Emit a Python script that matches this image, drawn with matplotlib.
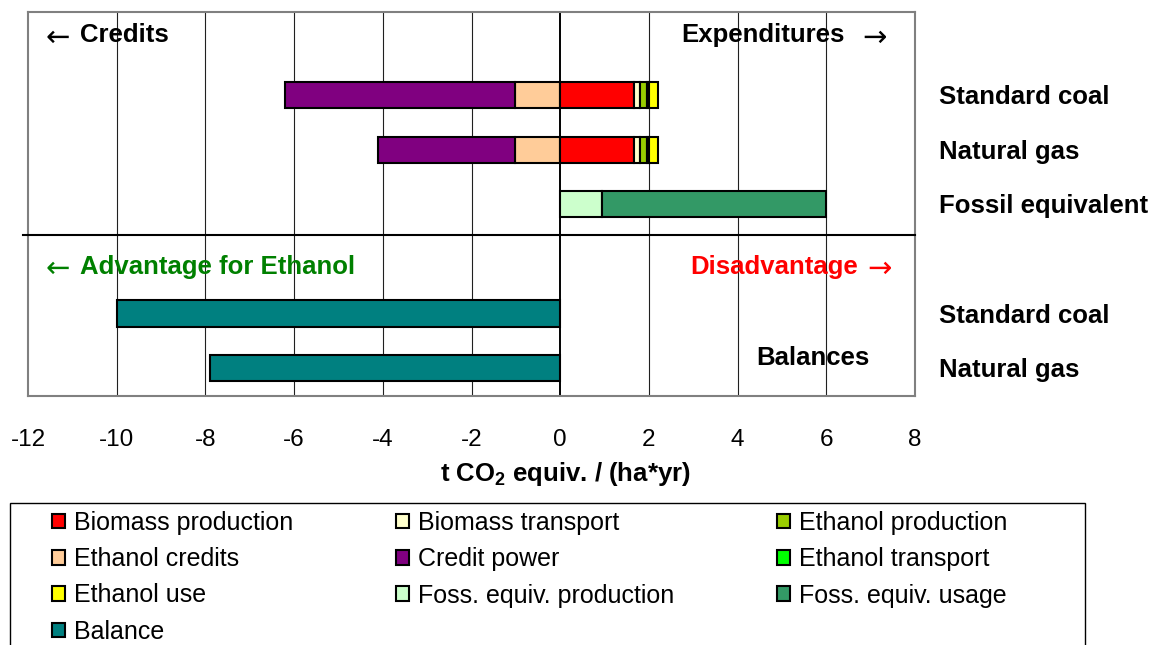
import matplotlib
matplotlib.use("Agg")
import matplotlib.pyplot as plt
from matplotlib.patches import Patch, Rectangle
import numpy as np

# ---------------- data ----------------
rows = ["Standard coal", "Natural gas", "Fossil equivalent", "", "Standard coal", "Natural gas"]
ethanol_rows = [0, 1]
fossil_row = 2
balance_rows = [4, 5]

# Ethanol chains (Standard coal, Natural gas)
ethanol_credits = [-1.02, -1.02]
credit_power = [-5.19, -3.08]
biomass_production = [1.66, 1.66]
biomass_transport = [0.14, 0.14]
ethanol_production = [0.16, 0.16]
ethanol_transport = [0.05, 0.05]
ethanol_use = [0.20, 0.20]

# Fossil equivalent
foss_equiv_production = [0.95]
foss_equiv_usage = [5.05]

# Balances (Standard coal, Natural gas)
balance = [-10.0, -7.89]

xticks = [-12, -10, -8, -6, -4, -2, 0, 2, 4, 6, 8]

colors = {
    "Biomass production": "#FF0000",
    "Biomass transport": "#FFFFCC",
    "Ethanol production": "#99CC00",
    "Ethanol credits": "#FFCC99",
    "Credit power": "#800080",
    "Ethanol transport": "#00FF00",
    "Ethanol use": "#FFFF00",
    "Foss. equiv. production": "#CCFFCC",
    "Foss. equiv. usage": "#339966",
    "Balance": "#008080",
}

plt.rcParams['font.family'] = ['Liberation Sans', 'DejaVu Sans']
plt.rcParams['mathtext.fontset'] = 'custom'
plt.rcParams['mathtext.bf'] = 'Liberation Sans:bold'
plt.rcParams['mathtext.rm'] = 'Liberation Sans'

W, H = 1153, 645
fig = plt.figure(figsize=(W / 100, H / 100), dpi=100)
ax = fig.add_axes([28 / W, 1 - 396 / H, (915 - 28) / W, (396 - 12) / H])

bh = 0.48
ekw = dict(height=bh, edgecolor="black", linewidth=1.5, zorder=3)

# left side (credits)
y = np.array(ethanol_rows)
ax.barh(y, ethanol_credits, left=0, color=colors["Ethanol credits"], **ekw)
ax.barh(y, credit_power, left=ethanol_credits, color=colors["Credit power"], **ekw)

# right side (expenditures)
left = np.zeros(2)
for name, vals in [("Biomass production", biomass_production),
                   ("Biomass transport", biomass_transport),
                   ("Ethanol production", ethanol_production),
                   ("Ethanol transport", ethanol_transport),
                   ("Ethanol use", ethanol_use)]:
    ax.barh(y, vals, left=left, color=colors[name], **ekw)
    left = left + np.array(vals)

# fossil equivalent
ax.barh([fossil_row], foss_equiv_production, left=0, color=colors["Foss. equiv. production"], **ekw)
ax.barh([fossil_row], foss_equiv_usage, left=foss_equiv_production, color=colors["Foss. equiv. usage"], **ekw)

# balances
ax.barh(balance_rows, balance, left=0, color=colors["Balance"], **ekw)

ax.set_xlim(-12, 8)
ax.set_ylim(5.51, -1.52)
ax.set_xticks(xticks)
ax.set_xticklabels([str(t) for t in xticks], fontsize=17.5)
ax.set_yticks([])
ax.tick_params(axis="x", length=0, pad=24)

for s in ax.spines.values():
    s.set_color("#808080")
    s.set_linewidth(1.5)

for t in xticks[1:-1]:
    if t == 0:
        ax.axvline(0, color="black", lw=1.4, zorder=2)
    else:
        ax.axvline(t, color="#202020", lw=0.8, zorder=1)

# divider
ax.plot([-12.12, 8], [2.56, 2.56], color="black", lw=1.5, zorder=4, clip_on=False)

fs_b = 18.5
afs = 21
dy = 0.04
arrow_kw = dict(fontsize=afs, family="DejaVu Sans", ha="center", va="center", zorder=5)
txt_kw = dict(fontsize=fs_b, fontweight="bold", va="center", zorder=5)

ax.text(-11.335, -1.05, "←", color="black", **arrow_kw)
ax.text(-10.83, -1.13 + dy, "Credits", ha="left", **txt_kw)
ax.text(6.42, -1.13 + dy, "Expenditures", ha="right", **txt_kw)
ax.text(7.08, -1.05, "→", color="black", **arrow_kw)

ax.text(-11.335, 3.19, "←", color="#008000", **arrow_kw)
ax.text(-10.83, 3.11 + dy, "Advantage for Ethanol", ha="left", color="#008000", **txt_kw)
ax.text(6.71, 3.11 + dy, "Disadvantage", ha="right", color="#FF0000", **txt_kw)
ax.text(7.21, 3.19, "→", color="#FF0000", **arrow_kw)

ax.text(5.69, 4.78 + dy, "Balances", ha="center", **txt_kw)

for i, lab in enumerate(rows):
    if lab:
        ax.text(1.027, i + dy, lab, transform=ax.get_yaxis_transform(), fontsize=fs_b,
                fontweight="bold", ha="left", va="center")

fig.text(565 / W, 1 - 474 / H, r"t CO$_\mathbf{2}$ equiv. / (ha*yr)", fontsize=fs_b,
         fontweight="bold", ha="center", va="center")

# legend
order = ["Biomass production", "Ethanol credits", "Ethanol use", "Balance",
         "Biomass transport", "Credit power", "Foss. equiv. production",
         "Ethanol production", "Ethanol transport", "Foss. equiv. usage"]
handles = [Patch(facecolor=colors[n], edgecolor="black", linewidth=1.5, label=n) for n in order]
leg = fig.legend(handles=handles, ncol=3, loc="upper left",
                 bbox_to_anchor=(52 / W, 1 - 511 / H), frameon=False,
                 fontsize=18, handlelength=0.52, handleheight=0.52,
                 handletextpad=0.38, columnspacing=4.08, labelspacing=0.49, borderpad=0,
                 borderaxespad=0)

fig.add_artist(Rectangle((10 / W, -0.05), (1085 - 10) / W, 0.05 + (1 - 503 / H),
                         transform=fig.transFigure, facecolor="none",
                         edgecolor="black", linewidth=1.0))

fig.savefig("out.png", dpi=100)
